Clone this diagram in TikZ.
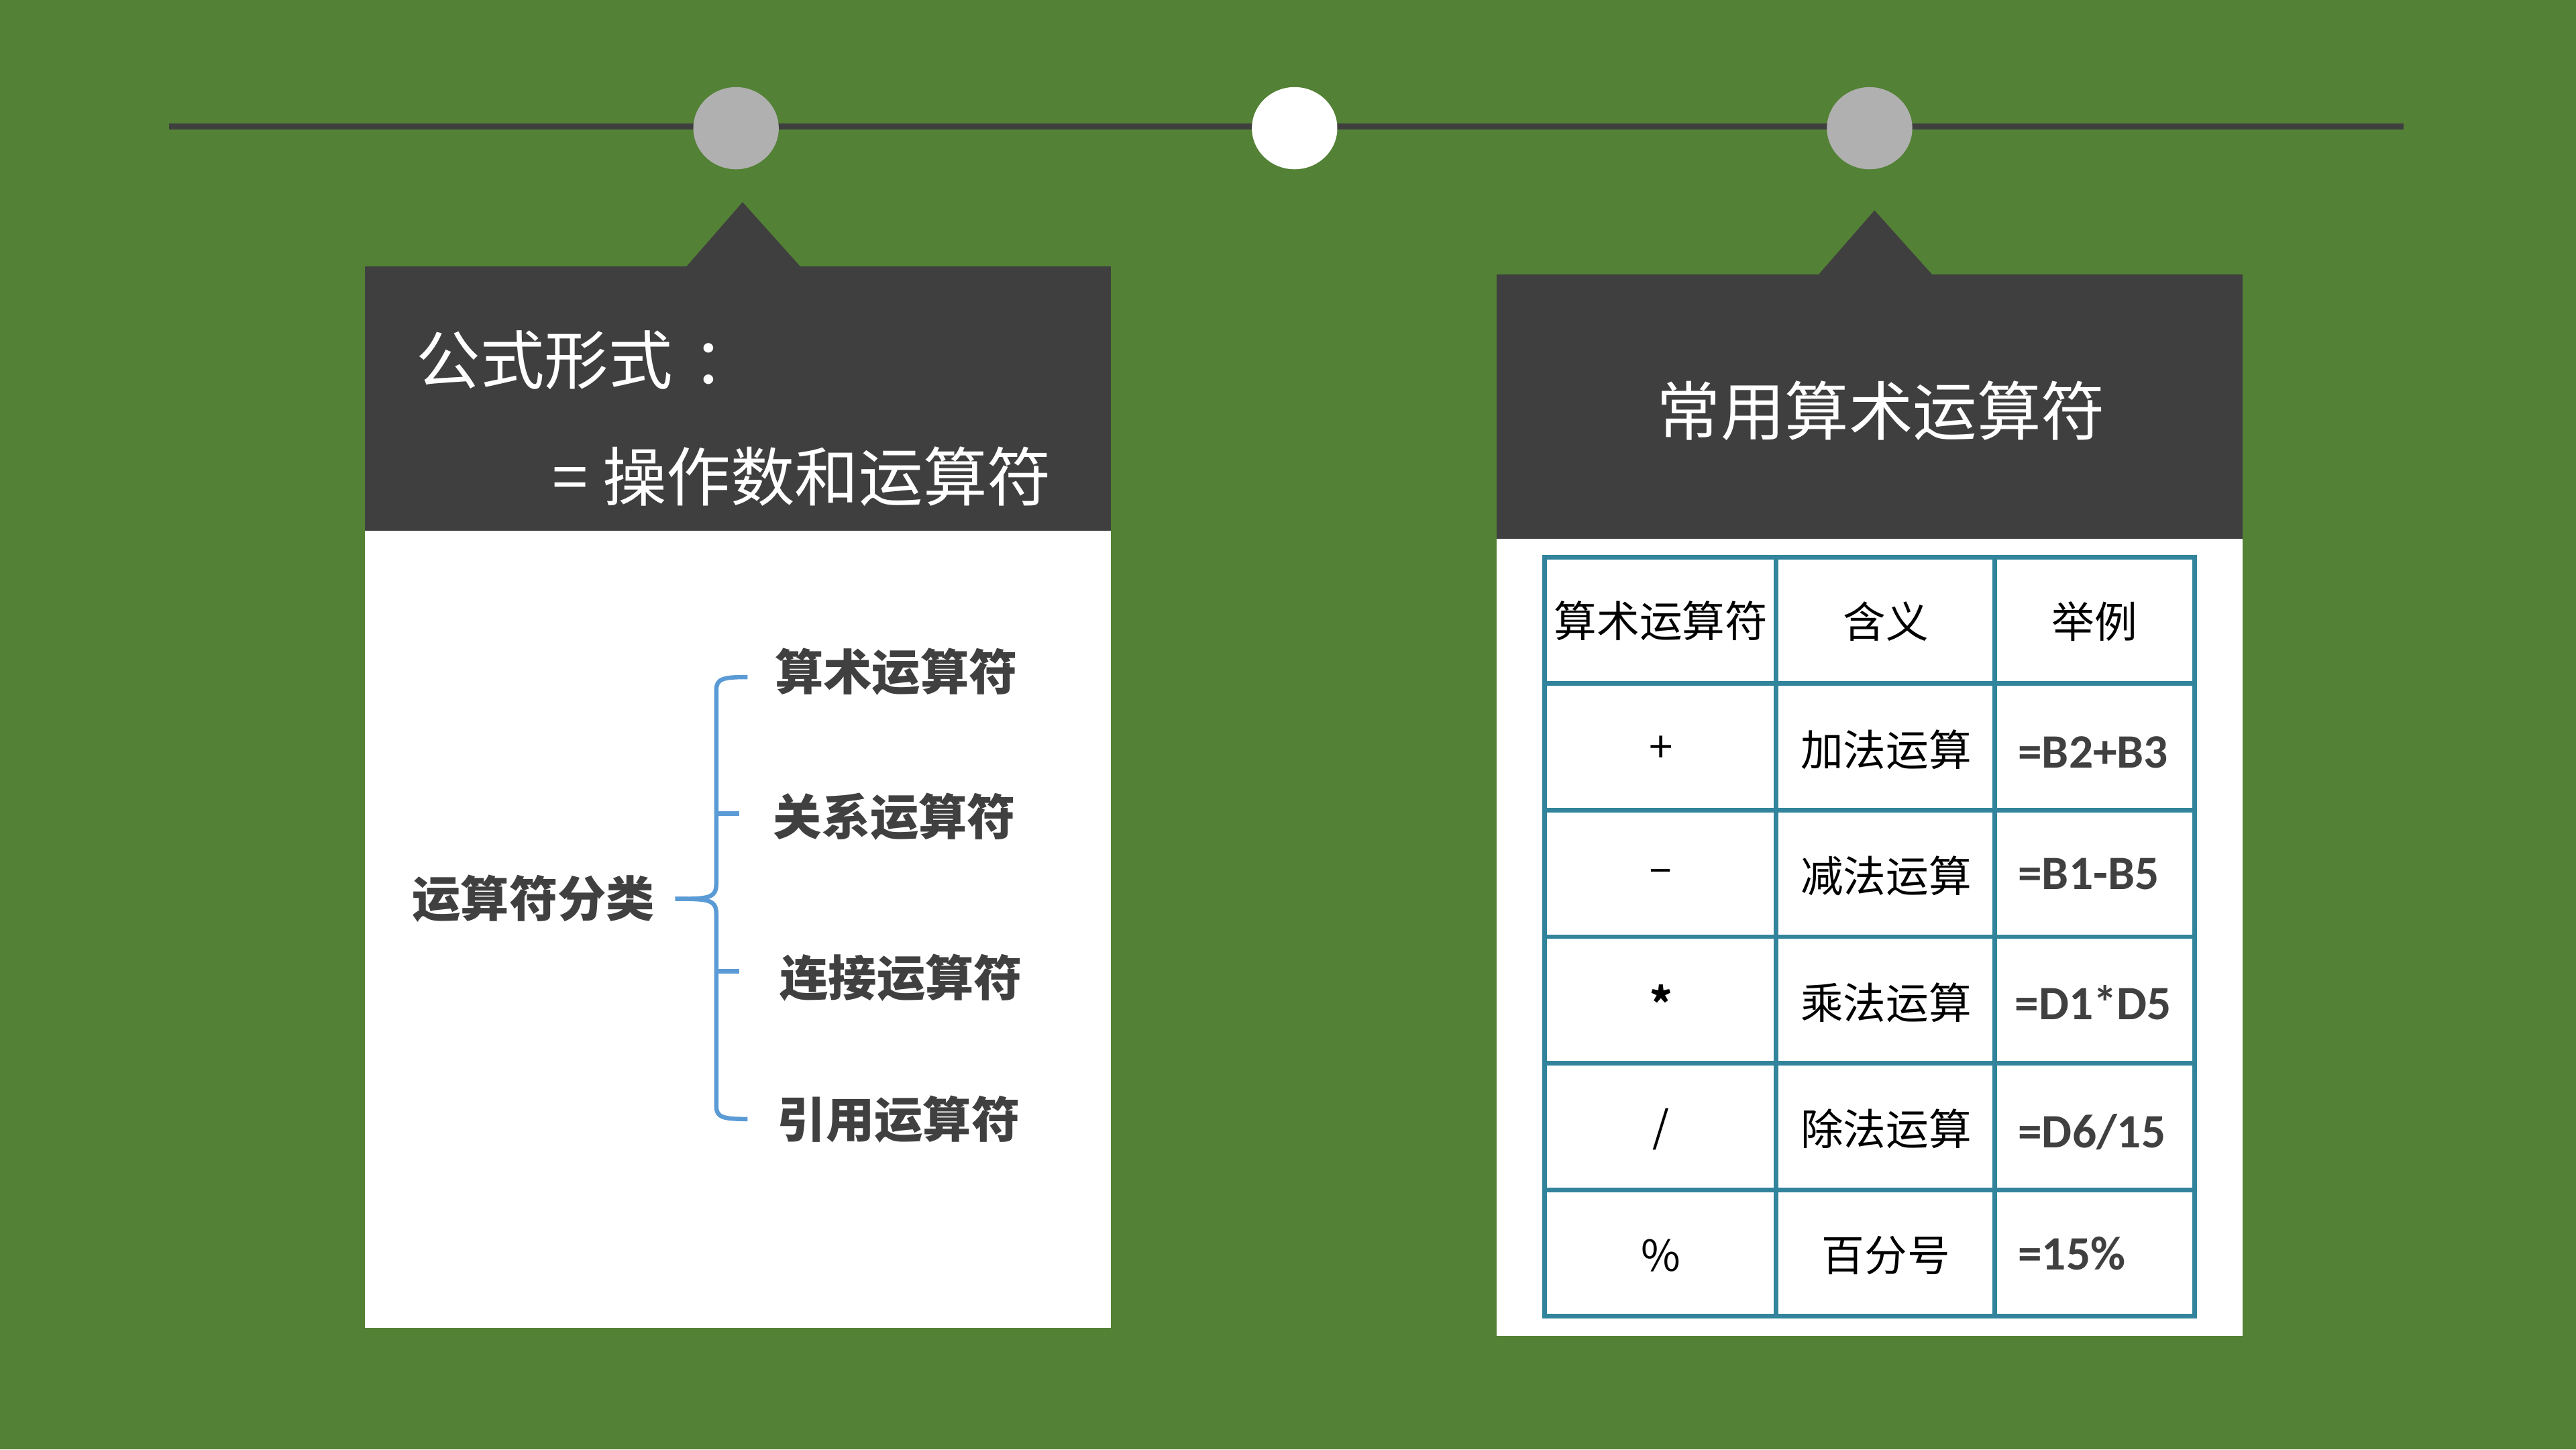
\documentclass[tikz,border=0pt]{standalone}
\usepackage{fontspec}
\usepackage{tikz}
\newfontfamily\cjk{Noto Sans CJK SC}
\newfontfamily\calib{Carlito}
\definecolor{bggreen}{HTML}{538135}
\definecolor{darkbox}{HTML}{3F3F3F}
\definecolor{dotgray}{HTML}{B0B0B0}
\definecolor{braceblue}{HTML}{5B9BD5}
\definecolor{tableteal}{HTML}{31849B}
\definecolor{textgray}{HTML}{404040}

\begin{document}
\begin{tikzpicture}[
    title/.style={text=white, font=\cjk\fontsize{11.1pt}{13pt}\selectfont},
    item/.style={text=textgray, font=\cjk\bfseries\fontsize{8.4pt}{10pt}\selectfont},
    cell/.style={text=black, font=\cjk\fontsize{7.4pt}{9pt}\selectfont},
    val/.style={text=textgray, anchor=west, font=\calib\bfseries\fontsize{8.3pt}{10pt}\selectfont},
    brace/.style={braceblue, line width=0.75pt},
    grid/.style={tableteal, line width=0.8pt}]
            \fill[bggreen] (0,0) rectangle (15.68,-8.82);
            \useasboundingbox (0,0) rectangle (15.68,-8.82);

            % timeline
            \draw[darkbox, line width=1.1pt] (1.03,-0.77) -- (14.63,-0.77);
            \fill[dotgray] (4.48,-0.78) ellipse (0.26 and 0.25);
            \fill[white] (7.88,-0.78) ellipse (0.26 and 0.25);
            \fill[dotgray] (11.38,-0.78) ellipse (0.26 and 0.25);

            % left card
            \fill[white] (2.22,-3.23) rectangle (6.76,-8.08);
            \fill[darkbox] (2.22,-1.62) rectangle (6.76,-3.23);
            \fill[darkbox] (4.18,-1.62) -- (4.52,-1.23) -- (4.87,-1.62) -- cycle;

            \node[title, anchor=west] (form) at (2.41,-2.19) {公式形式\hspace{0.12cm}：};
            \node[title, anchor=west] (formeq) at (3.24,-2.90) {= 操作数和运算符};

            \node[item, anchor=east] (cls) at (4.11,-5.47) {运算符分类};
            \node[item] (arith) at (5.455,-4.09) {算术运算符};
            \node[item] (rel) at (5.445,-4.97) {关系运算符};
            \node[item] (concat) at (5.485,-5.95) {连接运算符};
            \node[item] (ref) at (5.47,-6.81) {引用运算符};

            \draw[brace] (cls.east) .. controls (4.30,-5.47) and (4.36,-5.47) .. (4.36,-5.38)
                -- (4.36,-4.20) .. controls (4.36,-4.13) and (4.40,-4.12) .. (4.55,-4.12);
            \draw[brace] (cls.east) .. controls (4.30,-5.47) and (4.36,-5.47) .. (4.36,-5.56)
                -- (4.36,-6.73) .. controls (4.36,-6.80) and (4.40,-6.81) .. (4.55,-6.81);
            \draw[brace] (4.36,-4.95) -- (4.50,-4.95);
            \draw[brace] (4.36,-5.91) -- (4.50,-5.91);

            % right card
            \fill[white] (9.11,-3.28) rectangle (13.65,-8.13);
            \fill[darkbox] (9.11,-1.67) rectangle (13.65,-3.28);
            \fill[darkbox] (11.07,-1.67) -- (11.41,-1.28) -- (11.76,-1.67) -- cycle;

            \node[title] (optitle) at (11.45,-2.50) {常用算术运算符};

            % table
            \draw[grid] (9.40,-3.39) rectangle (13.36,-8.01);
            \draw[grid] (10.81,-3.39) -- (10.81,-8.01);
            \draw[grid] (12.14,-3.39) -- (12.14,-8.01);
            \draw[grid] (9.40,-4.16) -- (13.36,-4.16);
            \draw[grid] (9.40,-4.93) -- (13.36,-4.93);
            \draw[grid] (9.40,-5.70) -- (13.36,-5.70);
            \draw[grid] (9.40,-6.47) -- (13.36,-6.47);
            \draw[grid] (9.40,-7.24) -- (13.36,-7.24);

            \node[cell] (hop) at (10.11,-3.78) {算术运算符};
            \node[cell] (hmean) at (11.48,-3.78) {含义};
            \node[cell] (hex) at (12.75,-3.78) {举例};

            \node[cell] (add) at (10.11,-4.56) {+};
            \node[cell] (addm) at (11.48,-4.56) {加法运算};
            \node[val] (adde) at (12.16,-4.58) {=B2+B3};

            \node[cell] (sub) at (10.11,-5.33) {–};
            \node[cell] (subm) at (11.48,-5.33) {减法运算};
            \node[val] (sube) at (12.16,-5.32) {=B1-B5};

            \node[cell] (mul) at (10.11,-6.10) {\raisebox{-0.2em}{\bfseries *}};
            \node[cell] (mulm) at (11.48,-6.10) {乘法运算};
            \node[val] (mule) at (12.14,-6.10) {=D1*D5};

            \node[cell] (dvd) at (10.11,-6.87) {/};
            \node[cell] (dvdm) at (11.48,-6.87) {除法运算};
            \node[val] (dvde) at (12.16,-6.89) {=D6/15};

            \node[cell] (pct) at (10.11,-7.64) {\%};
            \node[cell] (pctm) at (11.48,-7.64) {百分号};
            \node[val] (pcte) at (12.16,-7.63) {=15\%};
        \end{tikzpicture}
\end{document}
